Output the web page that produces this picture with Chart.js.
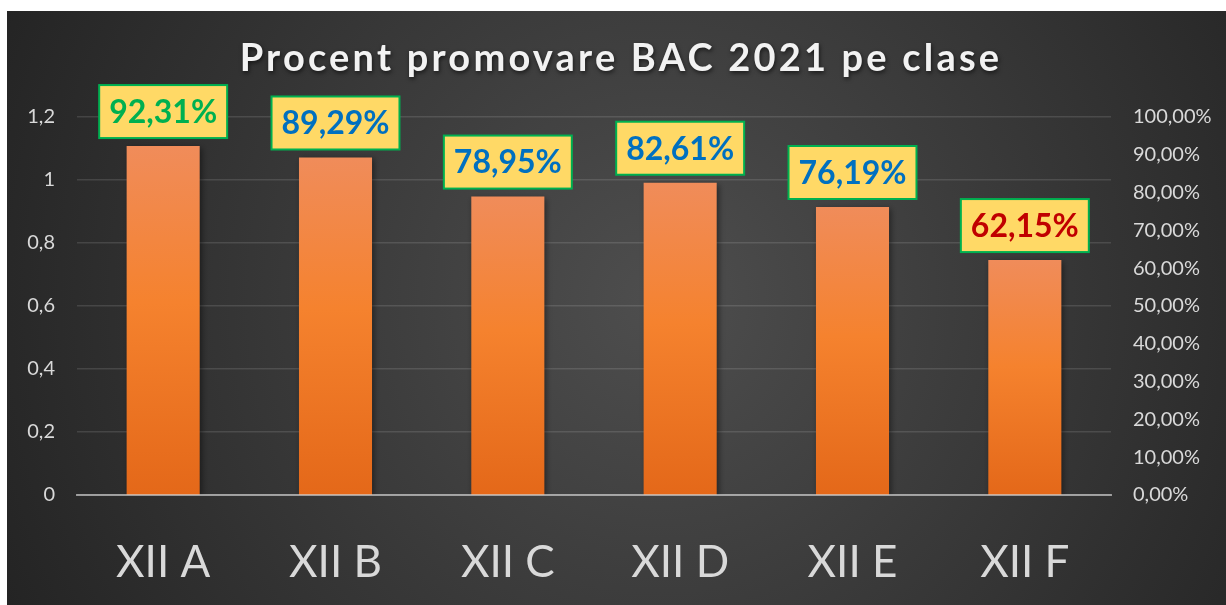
<!DOCTYPE html>
<html><head><meta charset="utf-8">
<script src="https://cdn.jsdelivr.net/npm/chart.js@4.4.0/dist/chart.umd.min.js"></script>
<style>html,body{margin:0;padding:0;background:#fff;overflow:hidden}#wrap{width:1226px;height:605px;position:relative}</style>
</head><body><div id="wrap"><canvas id="c"></canvas></div>
<script>
const categories = ['XII A', 'XII B', 'XII C', 'XII D', 'XII E', 'XII F'];
const percentValues = [0.9231, 0.8929, 0.7895, 0.8261, 0.7619, 0.6215];
const percentLabels = ['92,31%', '89,29%', '78,95%', '82,61%', '76,19%', '62,15%'];
const leftTickLabels = ['0', '0,2', '0,4', '0,6', '0,8', '1', '1,2'];
const rightTickLabels = ['0,00%', '10,00%', '20,00%', '30,00%', '40,00%', '50,00%', '60,00%', '70,00%', '80,00%', '90,00%', '100,00%'];
const titleText = 'Procent promovare BAC 2021 pe clase';
const labelColors = ['#00B050', '#0070C0', '#0070C0', '#0070C0', '#0070C0', '#C00000'];

const bgPlugin = {
  id: 'bg',
  beforeDraw(chart) {
    const c = chart.ctx;
    c.save();
    c.fillStyle = '#ffffff';
    c.fillRect(0, 0, chart.width, chart.height);
    const g = c.createRadialGradient(660, 300, 0, 660, 300, 720);
    g.addColorStop(0, '#4e4e4e');
    g.addColorStop(1, '#242424');
    c.fillStyle = g;
    c.fillRect(7, 11, chart.width - 7, chart.height - 11);
    c.restore();
  }
};

const titlePlugin = {
  id: 'titleDraw',
  afterDraw(chart) {
    const c = chart.ctx;
    c.save();
    c.font = 'bold 38px Lato';
    c.letterSpacing = '3.2px';
    c.textAlign = 'center';
    c.textBaseline = 'middle';
    c.shadowColor = 'rgba(0,0,0,0.6)';
    c.shadowBlur = 4;
    c.shadowOffsetX = 1;
    c.shadowOffsetY = 2;
    c.fillStyle = '#F2F2F2';
    c.fillText(titleText, 621, 59);
    c.restore();
  }
};

const shadowPlugin = {
  id: 'barShadow',
  beforeDatasetDraw(chart) {
    const c = chart.ctx;
    c.save();
    c.shadowColor = 'rgba(0,0,0,0.45)';
    c.shadowBlur = 6;
    c.shadowOffsetX = 2;
    c.shadowOffsetY = 2;
  },
  afterDatasetDraw(chart) {
    chart.ctx.restore();
  }
};

const labelPlugin = {
  id: 'boxLabels',
  afterDatasetsDraw(chart) {
    const c = chart.ctx;
    const meta = chart.getDatasetMeta(0);
    c.save();
    c.font = 'bold 32px Lato';
    c.textAlign = 'center';
    c.textBaseline = 'middle';
    meta.data.forEach((el, i) => {
      const txt = percentLabels[i];
      const w = c.measureText(txt).width + 20;
      const h = 53;
      const bottom = el.y - 8;
      const top = bottom - h;
      const left = el.x - w / 2;
      c.fillStyle = '#FFD966';
      c.fillRect(left, top, w, h);
      c.strokeStyle = '#00B050';
      c.lineWidth = 2;
      c.strokeRect(left, top, w, h);
      c.fillStyle = labelColors[i];
      c.fillText(txt, el.x, top + h / 2 + 1);
    });
    c.restore();
  }
};

new Chart(document.getElementById('c'), {
  type: 'bar',
  data: {
    labels: categories,
    datasets: [{
      data: percentValues,
      yAxisID: 'y2',
      barPercentage: 0.424,
      categoryPercentage: 1,
      backgroundColor: (ctx) => {
        const chart = ctx.chart;
        const s = chart.scales && chart.scales.y2;
        if (!s || ctx.raw === undefined) return '#F5822F';
        const top = s.getPixelForValue(ctx.raw);
        const bottom = s.getPixelForValue(0);
        if (!isFinite(top) || !isFinite(bottom) || top === bottom) return '#F5822F';
        const g = chart.ctx.createLinearGradient(0, top, 0, bottom);
        g.addColorStop(0, '#F08C5A');
        g.addColorStop(0.45, '#F5822E');
        g.addColorStop(1, '#E46819');
        return g;
      }
    }]
  },
  plugins: [bgPlugin, shadowPlugin, labelPlugin, titlePlugin],
  options: {
    responsive: true,
    maintainAspectRatio: false,
    animation: false,
    layout: { padding: { top: 117, left: 0, right: 0, bottom: 0 } },
    plugins: { legend: { display: false }, title: { display: false }, tooltip: { enabled: false } },
    scales: {
      x: {
        grid: { display: false, drawTicks: false },
        border: { display: true, color: 'rgba(210,210,210,0.65)', width: 2, z: 1 },
        ticks: { color: '#D9D9D9', font: { family: 'Lato', size: 44, weight: '400' }, padding: 41 },
        afterFit: (s) => { s.height = 110; }
      },
      y: {
        position: 'left',
        min: 0, max: 1.2,
        ticks: {
          stepSize: 0.2, color: '#D9D9D9', padding: 22,
          font: { family: 'Lato', size: 20 },
          callback: (v, i) => leftTickLabels[i]
        },
        grid: { color: 'rgba(255,255,255,0.12)', lineWidth: 1.5, drawTicks: false },
        border: { display: false },
        afterFit: (s) => { s.width = 77; }
      },
      y2: {
        position: 'right',
        min: 0, max: 1,
        ticks: {
          stepSize: 0.1, color: '#D9D9D9', padding: 22,
          font: { family: 'Lato', size: 20 },
          callback: (v, i) => rightTickLabels[i]
        },
        grid: { display: false, drawTicks: false },
        border: { display: false },
        afterFit: (s) => { s.width = 115; }
      }
    }
  }
});
</script></body></html>
